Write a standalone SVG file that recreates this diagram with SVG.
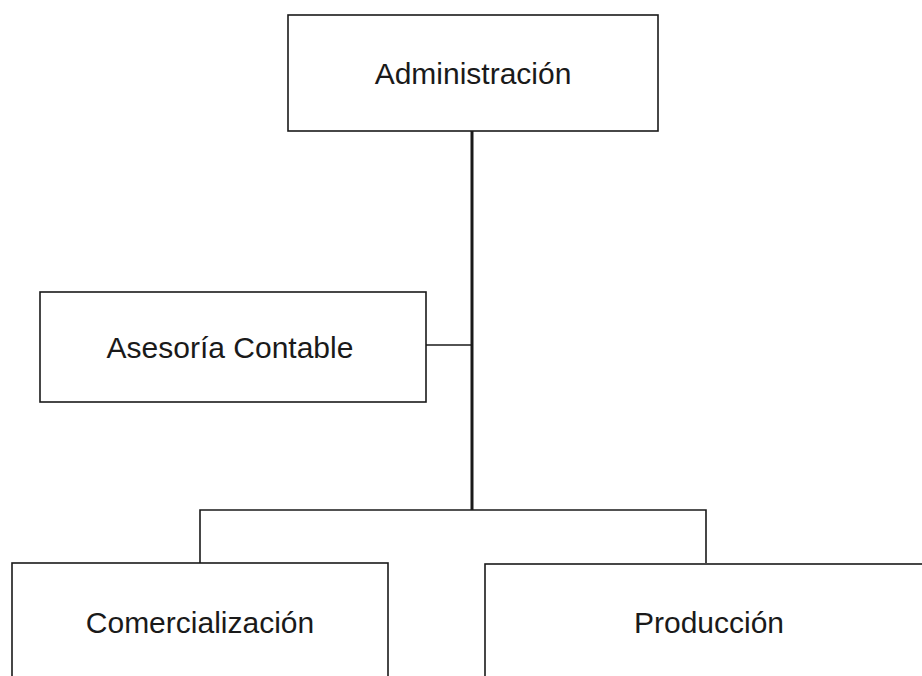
<svg xmlns="http://www.w3.org/2000/svg" width="922" height="676" viewBox="0 0 922 676">
<style>
.box{fill:#fff;stroke:#1a1a1a;stroke-width:1.6}
.lbl{font-family:"Liberation Sans",Arial,sans-serif;font-size:30px;fill:#1a1a1a;text-anchor:middle}
.ln{stroke:#1a1a1a;stroke-width:1.6;fill:none}
</style>
<rect width="922" height="676" fill="#fff"/>
<g id="connectors">
<line class="ln" x1="472" y1="131" x2="472" y2="510" style="stroke-width:3"/>
<line class="ln" x1="426" y1="345" x2="472" y2="345"/>
<polyline class="ln" points="200,563 200,510 706,510 706,563"/>
</g>
<g id="administracion">
<rect class="box" x="288" y="15" width="370" height="116"/>
<text class="lbl" x="473" y="84">Administración</text>
</g>
<g id="asesoria">
<rect class="box" x="40" y="292" width="386" height="110"/>
<text class="lbl" x="230" y="358">Asesoría Contable</text>
</g>
<g id="comercializacion">
<rect class="box" x="12" y="563" width="376" height="130"/>
<text class="lbl" x="200" y="633">Comercialización</text>
</g>
<g id="produccion">
<rect class="box" x="485" y="564" width="450" height="130"/>
<text class="lbl" x="709" y="633">Producción</text>
</g>
</svg>
